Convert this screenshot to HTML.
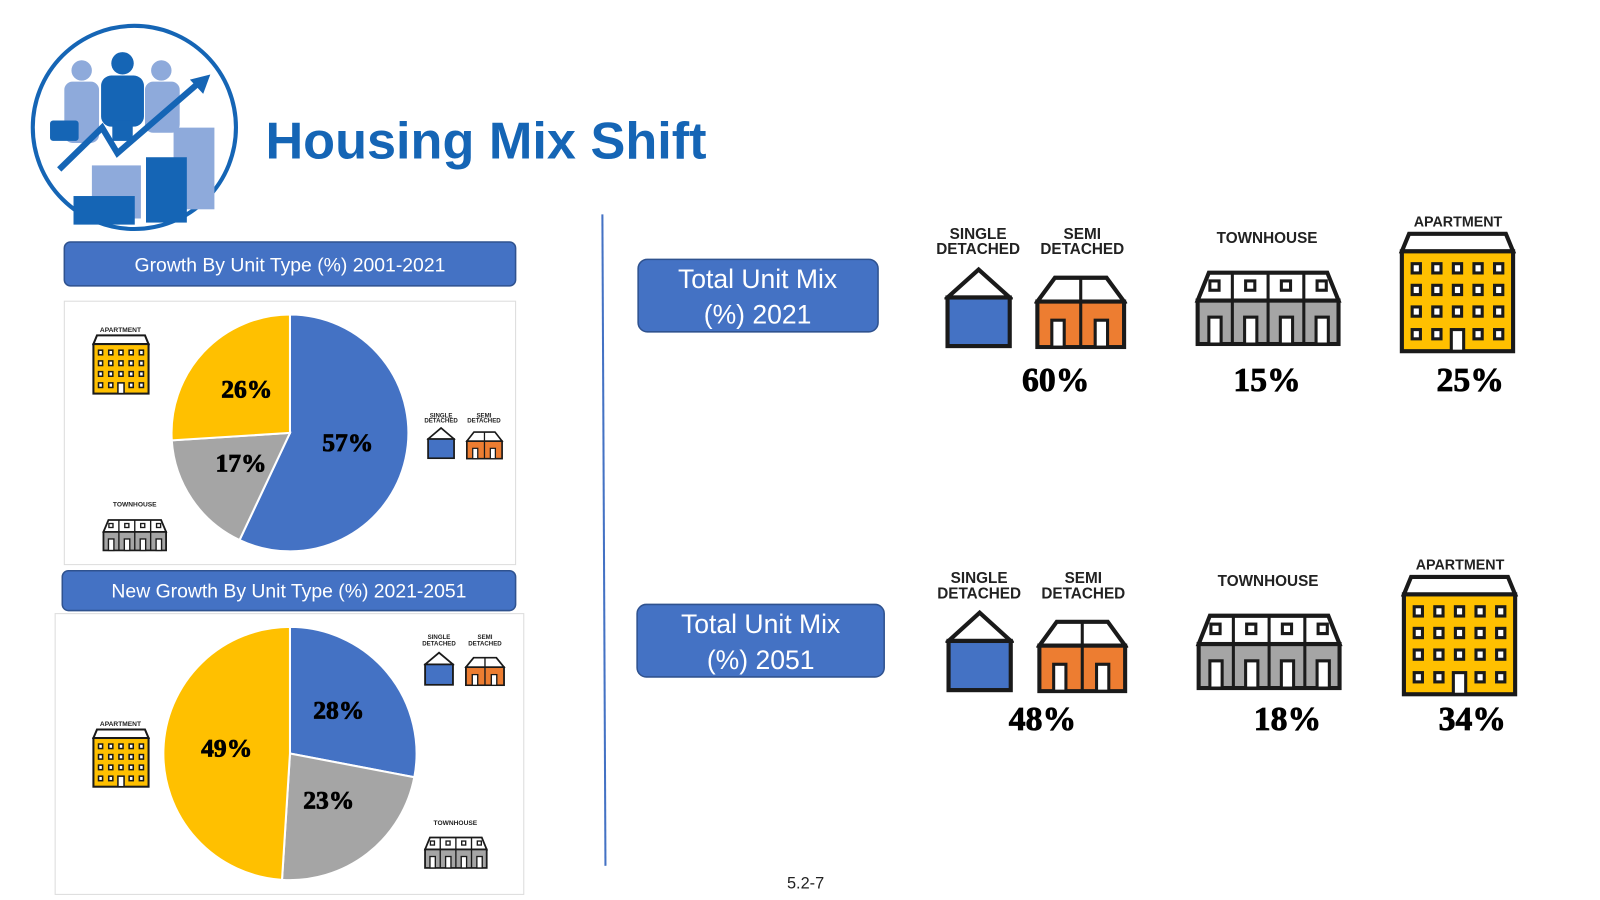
<!DOCTYPE html>
<html><head><meta charset="utf-8"><style>
html,body{margin:0;padding:0;background:#fff;width:1600px;height:900px;overflow:hidden}
svg{display:block}
.lbl{font-family:"Liberation Sans",sans-serif;font-weight:bold;fill:#222}
.pct{font-family:"Liberation Serif",serif;font-weight:900;fill:#000;stroke:#000;stroke-width:0.8}
.ban{font-family:"Liberation Sans",sans-serif;fill:#fff}
</style></head><body>
<svg id="s" width="1600" height="900" viewBox="0 0 1600 900" xmlns="http://www.w3.org/2000/svg">
<defs>
<symbol id="single" viewBox="0 0 66 80" preserveAspectRatio="none">
<polygon points="33,3 63,30 3,30" fill="#fff" stroke="#1a1a1a" stroke-width="4"/>
<rect x="3" y="30" width="60" height="47" fill="#4472c4" stroke="#1a1a1a" stroke-width="4"/>
</symbol>
<symbol id="semi" viewBox="0 0 90 72" preserveAspectRatio="none">
<polygon points="20,3 70,3 87,26 3,26" fill="#fff" stroke="#1a1a1a" stroke-width="4"/>
<line x1="45" y1="3" x2="45" y2="70" stroke="#1a1a1a" stroke-width="3"/>
<rect x="3" y="26" width="84" height="44" fill="#ed7d31" stroke="#1a1a1a" stroke-width="4"/>
<line x1="45" y1="26" x2="45" y2="70" stroke="#1a1a1a" stroke-width="3"/>
<rect x="17" y="44" width="12" height="26" fill="#fff" stroke="#1a1a1a" stroke-width="3"/>
<rect x="59" y="44" width="12" height="26" fill="#fff" stroke="#1a1a1a" stroke-width="3"/>
</symbol>
<symbol id="town" viewBox="0 0 144 74" preserveAspectRatio="none">
<polygon points="14,3 130,3 141,30 3,30" fill="#fff" stroke="#1a1a1a" stroke-width="4"/>
<rect x="3" y="30" width="138" height="42" fill="#a5a5a5" stroke="#1a1a1a" stroke-width="4"/>
<g stroke="#1a1a1a" stroke-width="3"><line x1="37" y1="3" x2="37" y2="72"/><line x1="72" y1="3" x2="72" y2="72"/><line x1="107" y1="3" x2="107" y2="72"/></g>
<g fill="#fff" stroke="#1a1a1a" stroke-width="3">
<rect x="15" y="11" width="9" height="9"/><rect x="50" y="11" width="9" height="9"/><rect x="85" y="11" width="9" height="9"/><rect x="120" y="11" width="9" height="9"/>
<rect x="14" y="46" width="12" height="26"/><rect x="49" y="46" width="12" height="26"/><rect x="84" y="46" width="12" height="26"/><rect x="119" y="46" width="12" height="26"/>
</g>
</symbol>
<symbol id="apt" viewBox="0 0 114 120" preserveAspectRatio="none">
<polygon points="10,3 104,3 111,20 3,20" fill="#fff" stroke="#1a1a1a" stroke-width="4"/>
<rect x="3" y="20" width="108" height="97" fill="#ffc000" stroke="#1a1a1a" stroke-width="4"/>
<g fill="#fff" stroke="#1a1a1a" stroke-width="3">
<rect x="13" y="32" width="8" height="9"/><rect x="33" y="32" width="8" height="9"/><rect x="53" y="32" width="8" height="9"/><rect x="73" y="32" width="8" height="9"/><rect x="93" y="32" width="8" height="9"/>
<rect x="13" y="53" width="8" height="9"/><rect x="33" y="53" width="8" height="9"/><rect x="53" y="53" width="8" height="9"/><rect x="73" y="53" width="8" height="9"/><rect x="93" y="53" width="8" height="9"/>
<rect x="13" y="74" width="8" height="9"/><rect x="33" y="74" width="8" height="9"/><rect x="53" y="74" width="8" height="9"/><rect x="73" y="74" width="8" height="9"/><rect x="93" y="74" width="8" height="9"/>
<rect x="13" y="96" width="8" height="9"/><rect x="33" y="96" width="8" height="9"/><rect x="73" y="96" width="8" height="9"/><rect x="93" y="96" width="8" height="9"/>
<rect x="51" y="96" width="12" height="21"/>
</g>
</symbol>
</defs>
<g transform="scale(1.021)">
<g>
<circle cx="131.6" cy="124.8" r="99.5" fill="#fff" stroke="#1565b5" stroke-width="4"/>
<g fill="#8eaadb"><circle cx="80" cy="69" r="10"/><rect x="63" y="80" width="34" height="60" rx="8"/><circle cx="158" cy="69" r="10"/><rect x="142" y="80" width="34" height="50" rx="8"/></g>
<g fill="#1565b5"><circle cx="120" cy="62" r="11"/><rect x="99" y="74" width="42" height="50" rx="10"/><rect x="110" y="118" width="20" height="20"/><rect x="49" y="118" width="28" height="20" rx="3"/></g>
<polyline points="58,166 100,125 115,150 196,80" fill="none" stroke="#1565b5" stroke-width="6"/>
<polygon points="206,73 186,78 199,92" fill="#1565b5"/>
<rect x="170" y="125" width="40" height="80" fill="#8eaadb"/>
<rect x="90" y="162" width="48" height="52" fill="#8eaadb"/>
<rect x="143" y="154" width="40" height="64" fill="#1565b5"/>
<rect x="72" y="192" width="60" height="28" fill="#1565b5"/>
</g>
<text x="260" y="155" font-family="Liberation Sans, sans-serif" font-weight="bold" font-size="51" fill="#1565b5" textLength="432" lengthAdjust="spacingAndGlyphs">Housing Mix Shift</text>
<line x1="590" y1="210" x2="593" y2="848" stroke="#4472c4" stroke-width="2"/>

<g>
<rect x="63" y="237" width="442" height="43" rx="6" fill="#4472c4" stroke="#2f528f" stroke-width="1.5"/>
<text class="ban" x="284" y="266" font-size="19" text-anchor="middle">Growth By Unit Type (%) 2001-2021</text></g>
<rect x="63" y="295" width="442" height="258" fill="#fff" stroke="#dcdcdc"/>
<g>
<rect x="61" y="559" width="444" height="39" rx="6" fill="#4472c4" stroke="#2f528f" stroke-width="1.5"/>
<text class="ban" x="283" y="585" font-size="19" text-anchor="middle">New Growth By Unit Type (%) 2021-2051</text></g>
<rect x="54" y="601" width="459" height="275" fill="#fff" stroke="#dcdcdc"/>
<g id="pies"></g>

<g>
<text class="lbl" x="118" y="325" font-size="6.5" text-anchor="middle">APARTMENT</text>
<use href="#apt" x="90" y="327" width="57" height="60"/>
<text class="lbl" x="432" y="409" font-size="6" text-anchor="middle">SINGLE</text><text class="lbl" x="432" y="414" font-size="6" text-anchor="middle">DETACHED</text>
<text class="lbl" x="474" y="409" font-size="6" text-anchor="middle">SEMI</text><text class="lbl" x="474" y="414" font-size="6" text-anchor="middle">DETACHED</text>
<use href="#single" x="418" y="418" width="28" height="32"/><use href="#semi" x="456" y="422" width="37" height="28"/>
<text class="lbl" x="132" y="496" font-size="6.5" text-anchor="middle">TOWNHOUSE</text>
<use href="#town" x="100" y="508" width="64" height="32"/>
</g>
<g>
<text class="lbl" x="118" y="711" font-size="6.5" text-anchor="middle">APARTMENT</text>
<use href="#apt" x="90" y="713" width="57" height="59"/>
<text class="lbl" x="430" y="626" font-size="6" text-anchor="middle">SINGLE</text><text class="lbl" x="430" y="632" font-size="6" text-anchor="middle">DETACHED</text>
<text class="lbl" x="475" y="626" font-size="6" text-anchor="middle">SEMI</text><text class="lbl" x="475" y="632" font-size="6" text-anchor="middle">DETACHED</text>
<use href="#single" x="415" y="638" width="30" height="34"/><use href="#semi" x="455" y="643" width="40" height="29"/>
<text class="lbl" x="446" y="808" font-size="6.5" text-anchor="middle">TOWNHOUSE</text>
<use href="#town" x="415" y="819" width="63" height="32"/>
</g>

<g>
<rect x="625" y="254" width="235" height="71" rx="9" fill="#4472c4" stroke="#2f528f" stroke-width="1.5"/>
<text class="ban" x="742" y="282" font-size="26" text-anchor="middle">Total Unit Mix</text>
<text class="ban" x="742" y="317" font-size="26" text-anchor="middle">(%) 2021</text></g>
<g>
<rect x="624" y="592" width="242" height="71" rx="9" fill="#4472c4" stroke="#2f528f" stroke-width="1.5"/>
<text class="ban" x="745" y="620" font-size="26" text-anchor="middle">Total Unit Mix</text>
<text class="ban" x="745" y="655" font-size="26" text-anchor="middle">(%) 2051</text></g>

<g>
<text class="lbl" x="958" y="234" font-size="15" text-anchor="middle">SINGLE</text><text class="lbl" x="958" y="249" font-size="15" text-anchor="middle">DETACHED</text>
<text class="lbl" x="1060" y="234" font-size="15" text-anchor="middle">SEMI</text><text class="lbl" x="1060" y="249" font-size="15" text-anchor="middle">DETACHED</text>
<use href="#single" x="925" y="261" width="67" height="81"/><use href="#semi" x="1013" y="269" width="91" height="73"/>
<text class="lbl" x="1241" y="238" font-size="15" text-anchor="middle">TOWNHOUSE</text>
<use href="#town" x="1170" y="264" width="144" height="75"/>
<text class="lbl" x="1428" y="222" font-size="14" text-anchor="middle">APARTMENT</text>
<use href="#apt" x="1370" y="226" width="115" height="121"/>
</g>
<g>
<text class="lbl" x="959" y="571" font-size="15" text-anchor="middle">SINGLE</text><text class="lbl" x="959" y="586" font-size="15" text-anchor="middle">DETACHED</text>
<text class="lbl" x="1061" y="571" font-size="15" text-anchor="middle">SEMI</text><text class="lbl" x="1061" y="586" font-size="15" text-anchor="middle">DETACHED</text>
<use href="#single" x="926" y="597" width="67" height="82"/><use href="#semi" x="1015" y="606" width="90" height="73"/>
<text class="lbl" x="1242" y="574" font-size="15" text-anchor="middle">TOWNHOUSE</text>
<use href="#town" x="1171" y="600" width="144" height="76"/>
<text class="lbl" x="1430" y="558" font-size="14" text-anchor="middle">APARTMENT</text>
<use href="#apt" x="1372" y="562" width="115" height="121"/>
</g>
<g id="mixpct"></g>
<text x="789" y="870" font-family="Liberation Sans, sans-serif" font-size="16" fill="#222" text-anchor="middle">5.2-7</text>
</g>
</svg>
<script>
var pieCategories = ["Single/Semi Detached", "Townhouse", "Apartment"];
var pieColors = ["#4472c4", "#a5a5a5", "#ffc000"];
var growth2001_2021 = [57, 17, 26];
var growth2021_2051 = [28, 23, 49];
var mixYears = ["2021", "2051"];
var mix2021 = [60, 15, 25];
var mix2051 = [48, 18, 34];

var NS = "http://www.w3.org/2000/svg";
function pt(cx, cy, r, frac) { var a = frac * 2 * Math.PI; return [cx + r * Math.sin(a), cy - r * Math.cos(a)]; }
function drawPie(g, vals, cx, cy, r, name) {
  var total = vals.reduce(function (a, b) { return a + b; }, 0), acc = 0;
  vals.forEach(function (v, i) {
    var f0 = acc / total, f1 = (acc + v) / total; acc += v;
    var p0 = pt(cx, cy, r, f0), p1 = pt(cx, cy, r, f1);
    var path = document.createElementNS(NS, "path");
    path.setAttribute("d", "M" + cx + "," + cy + " L" + p0[0] + "," + p0[1] + " A" + r + "," + r + " 0 " + ((f1 - f0) > 0.5 ? 1 : 0) + " 1 " + p1[0] + "," + p1[1] + " Z");
    path.setAttribute("fill", pieColors[i]);
    path.setAttribute("stroke", "#fff");
    path.setAttribute("stroke-width", "2");
    
    
    g.appendChild(path);
  });
  acc = 0;
  vals.forEach(function (v, i) {
    var fm = (acc + v / 2) / total; acc += v;
    var p = pt(cx, cy, r * 0.5, fm);
    var t = document.createElementNS(NS, "text");
    t.setAttribute("x", p[0]); t.setAttribute("y", p[1] + 5);
    t.setAttribute("class", "pct"); t.setAttribute("font-size", "25");
    t.setAttribute("text-anchor", "middle");
    t.textContent = v + "%";
    
    
    g.appendChild(t);
  });
}
var pies = document.getElementById("pies");
drawPie(pies, growth2001_2021, 284, 424, 116, "pie-2001-2021");
drawPie(pies, growth2021_2051, 284, 738, 124, "pie-2021-2051");

var mixg = document.getElementById("mixpct");
var mixX = [[1034, 1241, 1440], [1021, 1261, 1442]];
var mixY = [383, 715];
[mix2021, mix2051].forEach(function (arr, r) {
  arr.forEach(function (v, i) {
    var t = document.createElementNS(NS, "text");
    t.setAttribute("x", mixX[r][i]); t.setAttribute("y", mixY[r]);
    t.setAttribute("class", "pct"); t.setAttribute("font-size", "33");
    t.setAttribute("text-anchor", "middle");
    t.textContent = v + "%";
    
    
    mixg.appendChild(t);
  });
});
</script>
</body></html>
